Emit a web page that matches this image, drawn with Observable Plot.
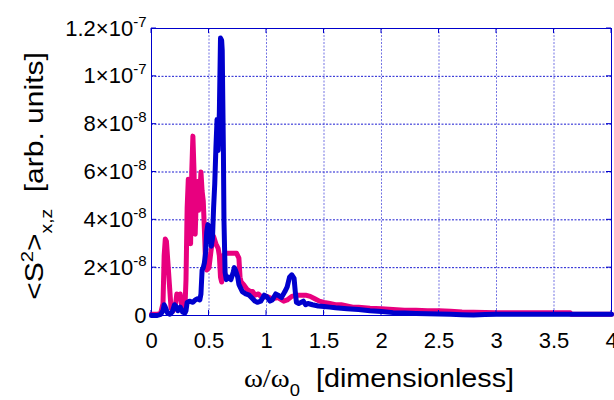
<!DOCTYPE html>
<html><head><meta charset="utf-8">
<script src="https://cdn.jsdelivr.net/npm/d3@7"></script>
<script src="https://cdn.jsdelivr.net/npm/@observablehq/plot@0.6"></script>
<style>body{margin:0;background:#fff} svg{display:block}</style>
</head><body><div id="chart"></div>
<script>
// tick values
const xTicks = [0, 0.5, 1, 1.5, 2, 2.5, 3, 3.5, 4];
const yTicks = [0, 2e-8, 4e-8, 6e-8, 8e-8, 1e-7, 1.2e-7];
const yUnit = 1e-8; // series values below are in units of 1e-8

// magenta series
const magentaX = [0.00,0.05,0.08,0.10,0.11,0.12,0.13,0.14,0.16,0.17,0.19,0.21,0.22,0.24,0.25,0.26,0.27,0.29,0.30,0.31,0.32,0.33,0.34,0.35,0.36,0.37,0.38,0.39,0.40,0.41,0.42,0.43,0.44,0.45,0.46,0.47,0.48,0.50,0.52,0.54,0.56,0.58,0.59,0.60,0.61,0.62,0.65,0.70,0.74,0.76,0.77,0.78,0.80,0.83,0.86,0.88,0.90,0.93,0.96,1.00,1.05,1.10,1.15,1.18,1.22,1.26,1.30,1.34,1.38,1.42,1.46,1.50,1.55,1.60,1.65,1.70,1.75,1.80,1.90,2.00,2.10,2.20,2.30,2.40,2.50,2.60,2.70,2.80,2.90,3.00,3.20,3.40,3.60,3.64,3.65,4.00];
const magentaY = [0.05,0.05,0.1,0.5,2.5,3.2,3.1,2.4,1.0,0.3,0.2,0.5,0.9,0.7,0.9,0.5,0.2,0.2,1.5,4.5,5.7,5.5,3.0,6.0,7.5,6.0,3.4,5.0,5.6,4.4,5.0,6.0,5.2,4.8,3.6,2.2,1.9,2.0,2.8,3.3,3.0,2.8,2.5,1.6,1.4,2.5,2.6,2.6,2.6,2.4,1.6,1.4,1.3,1.1,1.0,1.0,0.85,0.9,0.75,0.8,0.7,0.75,0.6,0.65,0.8,0.85,0.85,0.85,0.8,0.7,0.6,0.55,0.5,0.45,0.45,0.4,0.35,0.35,0.3,0.28,0.25,0.22,0.22,0.2,0.2,0.18,0.15,0.14,0.13,0.12,0.12,0.12,0.12,0.12,0.05,0.05];

// blue series
const blueX = [0.00,0.05,0.08,0.10,0.11,0.12,0.14,0.16,0.18,0.20,0.21,0.23,0.25,0.27,0.29,0.30,0.31,0.33,0.36,0.38,0.40,0.42,0.43,0.44,0.45,0.46,0.47,0.48,0.49,0.50,0.51,0.52,0.53,0.54,0.55,0.56,0.57,0.58,0.59,0.60,0.61,0.615,0.62,0.625,0.63,0.64,0.65,0.67,0.69,0.71,0.72,0.73,0.75,0.76,0.77,0.79,0.82,0.85,0.88,0.90,0.92,0.95,0.98,1.00,1.03,1.05,1.08,1.10,1.13,1.16,1.18,1.20,1.22,1.24,1.25,1.26,1.28,1.30,1.32,1.34,1.36,1.40,1.45,1.50,1.55,1.60,1.70,1.80,1.90,2.00,2.10,2.20,2.30,2.40,2.50,2.60,2.70,2.80,2.90,3.00,3.50,4.00];
const blueY = [0.0,0.0,0.05,0.2,0.45,0.35,0.1,0.05,0.15,0.45,0.4,0.2,0.35,0.15,0.1,0.2,0.55,0.6,0.55,0.65,0.7,0.65,0.9,1.9,2.0,2.2,2.6,3.5,3.8,3.7,3.7,2.9,3.2,4.5,5.5,7.0,8.2,6.9,8.5,11.6,11.5,11.1,9.0,7.0,4.0,1.8,1.5,1.6,1.5,1.8,2.0,1.9,1.6,1.3,1.2,1.0,0.9,0.85,0.7,0.6,0.55,0.6,0.85,0.8,0.6,0.65,0.9,0.85,0.75,1.0,1.2,1.6,1.7,1.55,1.0,0.55,0.5,0.55,0.6,0.45,0.5,0.45,0.4,0.38,0.35,0.32,0.28,0.25,0.2,0.17,0.12,0.1,0.08,0.07,0.06,0.05,0.03,0.02,0.04,0.05,0.05,0.05];

const magenta = magentaX.map((x, i) => ({x, y: magentaY[i] * yUnit}));
const blue = blueX.map((x, i) => ({x, y: blueY[i] * yUnit}));

const axisBlue = "#0000cc";

function yKey(v) {
  if (v === 0) return "0";
  const e = Math.floor(Math.log10(v) + 1e-9);
  const m = +(v / Math.pow(10, e)).toFixed(2);
  return m + "×10^-" + (-e);
}

const chart = Plot.plot({
  width: 614, height: 400,
  marginLeft: 151, marginRight: 3, marginTop: 28, marginBottom: 85,
  style: {fontFamily: "'Liberation Sans', Arial, sans-serif", fontSize: "22px", background: "#fff", color: "#000"},
  x: {domain: [0, 4], ticks: xTicks, tickFormat: d => String(d), tickSize: 0, tickPadding: 17, label: null},
  y: {domain: [0, 1.2e-7], ticks: yTicks, tickFormat: yKey, tickSize: 0, tickPadding: 5, label: null},
  marks: [
    Plot.gridX(xTicks.slice(1, -1), {stroke: axisBlue, strokeOpacity: 0.55, strokeDasharray: "2,1.5"}),
    Plot.gridY(yTicks.slice(1, -1), {stroke: axisBlue, strokeOpacity: 0.9, strokeDasharray: "2,1.5"}),
    Plot.frame({stroke: axisBlue, strokeWidth: 1}),
    Plot.line(magenta, {x: "x", y: "y", stroke: "#e8007f", strokeWidth: 5, strokeLinejoin: "round"}),
    Plot.line(blue, {x: "x", y: "y", stroke: "#0000cd", strokeWidth: 5, strokeLinejoin: "round"})
  ]
});

document.getElementById("chart").appendChild(chart);
const svg = d3.select(chart);

// superscript exponents in y tick labels
svg.selectAll('[aria-label="y-axis tick label"] text').each(function() {
  const t = d3.select(this);
  const s = t.text();
  if (s.indexOf("^") < 0) return;
  const [mant, ex] = s.split("^");
  t.text("");
  t.append("tspan").text(mant);
  t.append("tspan").attr("font-size", 15).attr("dy", -9).text(ex);
});

// inward ticks drawn from the library's scales
const sx = chart.scale("x"), sy = chart.scale("y");
const tg = svg.append("g").attr("stroke", axisBlue).attr("stroke-width", 1);
const xl = sx.apply(0), xr = sx.apply(4), yb = sy.apply(0), yt = sy.apply(1.2e-7);
yTicks.forEach(v => {
  const y = sy.apply(v);
  tg.append("line").attr("x1", xl).attr("x2", xl + 5).attr("y1", y).attr("y2", y);
  tg.append("line").attr("x1", xr - 5).attr("x2", xr).attr("y1", y).attr("y2", y);
});
xTicks.forEach(v => {
  const x = sx.apply(v);
  tg.append("line").attr("x1", x).attr("x2", x).attr("y1", yb).attr("y2", yb - 5);
  tg.append("line").attr("x1", x).attr("x2", x).attr("y1", yt).attr("y2", yt + 5);
});

// x axis label
const xlab = svg.append("text")
  .attr("transform", "translate(379,387) scale(1.15,1)")
  .attr("text-anchor", "middle").attr("fill", "#000")
  .style("font-family", "'Liberation Sans', Arial, sans-serif").style("font-size", "25px");
xlab.append("tspan").style("font-family", "'Liberation Serif', 'Times New Roman', serif").text("ω/ω");
xlab.append("tspan").attr("font-size", 16).attr("dy", 9).text("0");
xlab.append("tspan").attr("dy", -9).text("\u00a0\u00a0[dimensionless]");

// y axis label
const ylab = svg.append("text")
  .attr("transform", "translate(43,176) rotate(-90) scale(1.2,1)")
  .attr("text-anchor", "middle").attr("fill", "#000")
  .style("font-family", "'Liberation Sans', Arial, sans-serif").style("font-size", "25px");
ylab.append("tspan").text("<S");
ylab.append("tspan").attr("font-size", 17).attr("dy", -10).text("2");
ylab.append("tspan").attr("dy", 10).text(">");
ylab.append("tspan").attr("font-size", 16).attr("dy", 9).text("x,z");
ylab.append("tspan").attr("dy", -9).text("\u00a0\u00a0[arb. units]");
</script>
</body></html>
